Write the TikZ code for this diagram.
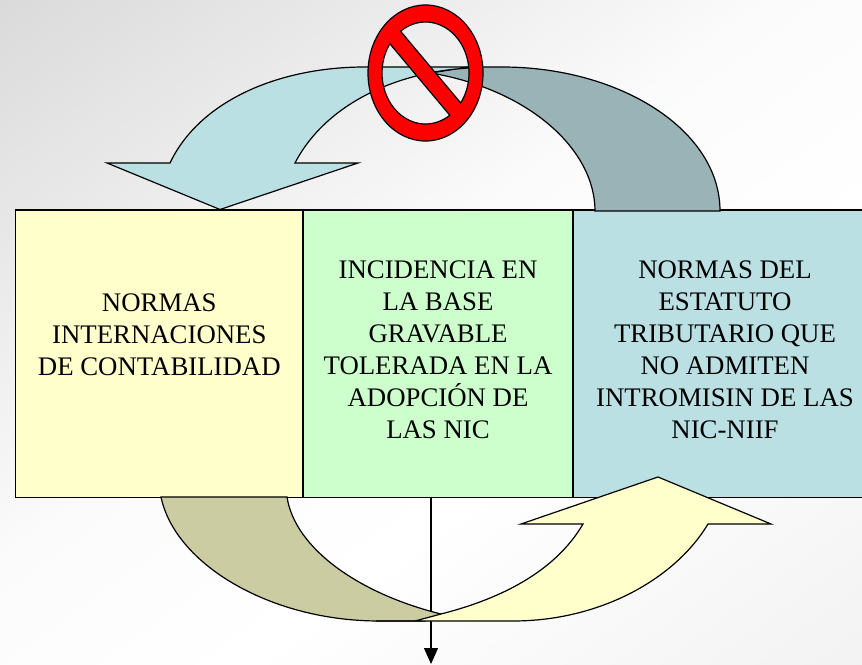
\documentclass[tikz,border=0pt]{standalone}
\usepackage{fontspec}
\setmainfont{Liberation Serif}
\usetikzlibrary{arrows.meta}
\definecolor{paleyellow}{RGB}{255, 255, 204}
\definecolor{palegreen}{RGB}{204, 255, 204}
\definecolor{paleblue}{RGB}{187, 224, 227}
\definecolor{darkblue}{RGB}{153, 179, 182}
\definecolor{olivetone}{RGB}{204, 204, 163}
\definecolor{stopred}{RGB}{255, 0, 0}
\pgfdeclareverticalshading{wallshade}{100bp}{rgb(0bp)=(.95,.95,.95); rgb(26.2bp)=(.95,.95,.95); rgb(42.8bp)=(1,1,1); rgb(52.8bp)=(.985,.985,.985); rgb(73.7bp)=(.855,.855,.855); rgb(100bp)=(.855,.855,.855)}
\tikzset{
  normbox/.style={draw,line width=1.2pt,minimum height=287.5pt,align=center,inner sep=0pt,font=\fontsize{26.8}{32}\selectfont},
  bandshape/.style={draw,line width=1.2pt,line join=miter}
}

\begin{document}
\begin{tikzpicture}[x=1pt,y=1pt]
            \useasboundingbox (0,0) rectangle (862,664);
            \begin{scope}
              \clip (0,0) rectangle (862,664);
              \shade[shading=wallshade,shading angle=36] (-119,-218) rectangle (981,882);
            \end{scope}

            \node[normbox,fill=paleyellow,minimum width=288pt] (normas) at (159.3,310.25) {NORMAS\\INTERNACIONES\\DE CONTABILIDAD\\[7pt]};
            \node[normbox,fill=palegreen,minimum width=270pt] (incidencia) at (438,310.25) {INCIDENCIA EN\\LA BASE\\GRAVABLE\\TOLERADA EN LA\\ADOPCI\'ON DE\\LAS NIC\\[-23pt]};
            \node[normbox,fill=paleblue,minimum width=304pt] (estatuto) at (725,310.25) {NORMAS DEL\\ESTATUTO\\TRIBUTARIO QUE\\NO ADMITEN\\INTROMISIN DE LAS\\NIC-NIIF\\[-23pt]};

            \coordinate (salida) at (431,0);
            \draw[line width=1.2pt,-{Triangle[length=16pt,width=14pt]}] (incidencia.south -| salida) -- (salida);

            % curved arrows, top
            \draw[bandshape,fill=darkblue] (431,591) -- (467,597) -- (502,597) .. controls (620,597) and (720,534) .. (720,453) -- (595,453) .. controls (595,514) and (530,574) .. (431,591) -- cycle;
            \draw[bandshape,fill=paleblue] (365,597) .. controls (280,597) and (200,564) .. (170,501) -- (107,501) -- (220,454.5) -- (358,501) -- (295,501) .. controls (325,559) and (395,592) .. (469,596) -- (467,597) -- cycle;

            % curved arrows, bottom
            \draw[bandshape,fill=olivetone] (161,167) .. controls (175,100) and (270,43) .. (379,43) -- (425,43) -- (441,50) .. controls (360,70) and (295,115) .. (287,167) -- cycle;
            \draw[bandshape,fill=paleyellow] (376,43) -- (513,43) .. controls (600,43) and (675,85) .. (708,140) -- (771,140) -- (658,187) -- (521,140) -- (583,140) .. controls (555,92) and (500,65) .. (441,50) -- (415,43) -- cycle;

            % prohibition sign
            \draw[line width=1.2pt,fill=stopred,even odd rule]
              (425.5,591) ellipse [x radius=57.5,y radius=68]
              (425.5,591) ++(125:43.5 and 51) arc [start angle=125,end angle=-36,x radius=43.5,y radius=51] -- cycle
              (425.5,591) ++(145:43.5 and 51) arc [start angle=145,end angle=304,x radius=43.5,y radius=51] -- cycle;
        \end{tikzpicture}
\end{document}
